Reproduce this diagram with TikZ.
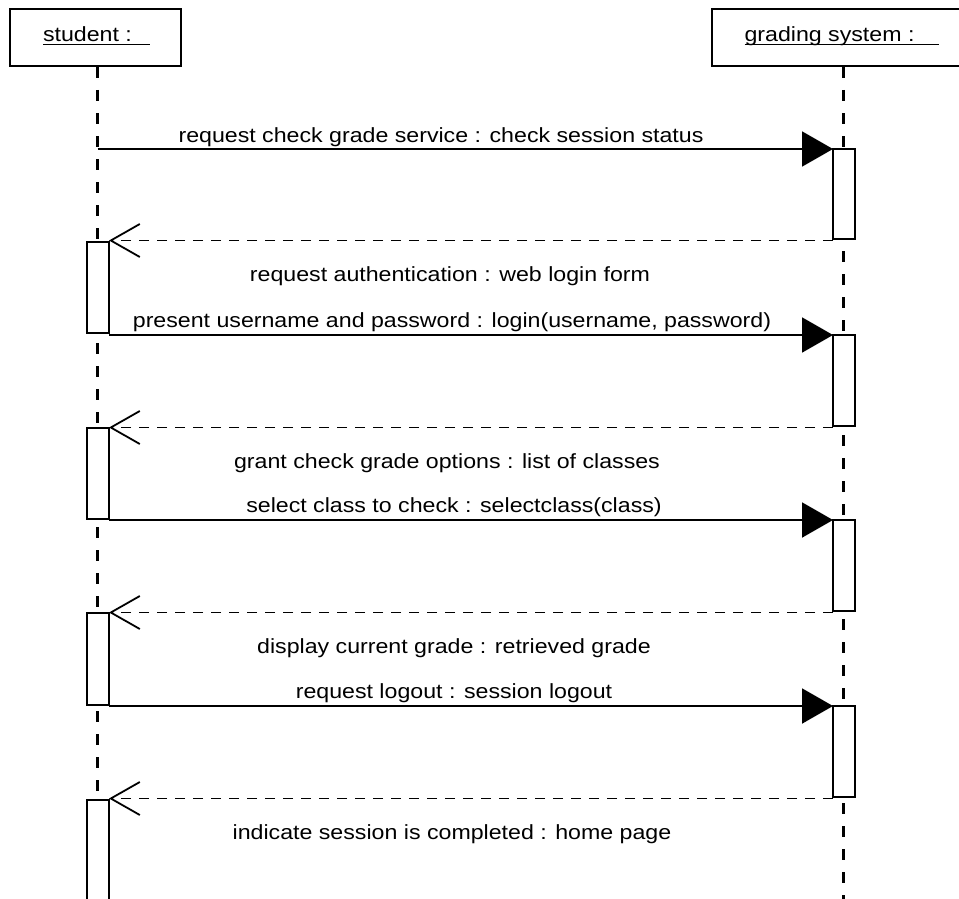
\documentclass[tikz,border=0pt]{standalone}
\usepackage{fontspec}
\setmainfont{Liberation Sans}[FakeStretch=1.13]
\usetikzlibrary{arrows.meta}

\tikzset{
  objbox/.style={draw, line width=2pt, fill=white, minimum width=262pt,
    minimum height=57pt, inner sep=0pt, outer sep=0pt},
  objname/.style={inner sep=0pt, outer sep=0pt, anchor=base},
  lifeline/.style={line width=2.2pt, dash pattern=on 11pt off 12pt},
  actbar/.style={draw, line width=2pt, fill=white, minimum width=22pt,
    inner sep=0pt, outer sep=0pt},
  callmsg/.style={line width=2pt, -{Triangle[length=31pt, width=35pt]}},
  replymsg/.style={line width=1.8pt, dash pattern=on 10pt off 8pt,
    -{Straight Barb[length=29pt, width=33pt, line width=1.8pt]}},
  msglabel/.style={inner sep=0pt, anchor=base}
}

\begin{document}
\begin{tikzpicture}[x=1pt, y=-1pt, font=\fontsize{20.5}{24}\selectfont]
\useasboundingbox (0,0) rectangle (959,899);
\clip (0,0) rectangle (959,899);

% object heads
\node[objbox, minimum width=171pt] (student) at (95.5,37.5) {};
\node[objbox] (grading) at (843,37.5) {};
\node[objname] (studentname) at (96.5,42) {student :\rule{18pt}{0pt}};
\node[objname] (gradingname) at (842,42) {grading system :\rule{25pt}{0pt}};
\draw[line width=1.4pt] ([yshift=-2.5pt]studentname.base west) -- ([yshift=-2.5pt]studentname.base east);
\draw[line width=1.4pt] ([yshift=-2.5pt]gradingname.base west) -- ([yshift=-2.5pt]gradingname.base east);

% lifelines
\coordinate (sTop) at (97.5,67);
\coordinate (sEnd) at (97.5,905);
\coordinate (gTop) at (843.5,67);
\coordinate (gEnd) at (843.5,905);
\draw[lifeline] (sTop) -- (sEnd);
\draw[lifeline] (gTop) -- (gEnd);

% activation bars, grading system
\node[actbar, minimum height=90pt] (g1) at (844,194) {};
\node[actbar, minimum height=91pt] (g2) at (844,380.5) {};
\node[actbar, minimum height=91pt] (g3) at (844,565.5) {};
\node[actbar, minimum height=91pt] (g4) at (844,751.5) {};

% activation bars, student
\node[actbar, minimum height=91pt] (s1) at (98,287.5) {};
\node[actbar, minimum height=91pt] (s2) at (98,473.5) {};
\node[actbar, minimum height=92pt] (s3) at (98,659) {};
\node[actbar, minimum height=120pt] (s4) at (98,860) {};

% calls, drawn level with the top of the called bar
\coordinate (c1) at (97.5,149);
\draw[callmsg] (c1) -- (g1.north west);
\draw[callmsg] (g2.north west -| s1.east) -- (g2.north west);
\draw[callmsg] (g3.north west -| s2.east) -- (g3.north west);
\draw[callmsg] (g4.north west -| s3.east) -- (g4.north west);

% replies, drawn level with the bottom of the returning bar
\draw[replymsg] ([yshift=-1.5pt]g1.south west) -- ([yshift=-1.5pt]g1.south west -| s1.east);
\draw[replymsg] ([yshift=-1.5pt]g2.south west) -- ([yshift=-1.5pt]g2.south west -| s2.east);
\draw[replymsg] ([yshift=-1.5pt]g3.south west) -- ([yshift=-1.5pt]g3.south west -| s3.east);
\draw[replymsg] ([yshift=-1.5pt]g4.south west) -- ([yshift=-1.5pt]g4.south west -| s4.east);

% message labels
\node[msglabel] (l1) at (441,142) {request check grade service : check session status};
\node[msglabel] (r1) at (450,281) {request authentication : web login form};
\node[msglabel] (l2) at (452,327) {present username and password : login(username, password)};
\node[msglabel] (r2) at (447,468) {grant check grade options : list of classes};
\node[msglabel] (l3) at (454,512) {select class to check : selectclass(class)};
\node[msglabel] (r3) at (454,653) {display current grade : retrieved grade};
\node[msglabel] (l4) at (454,698) {request logout : session logout};
\node[msglabel] (r4) at (452,839) {indicate session is completed : home page};
\end{tikzpicture}
\end{document}
